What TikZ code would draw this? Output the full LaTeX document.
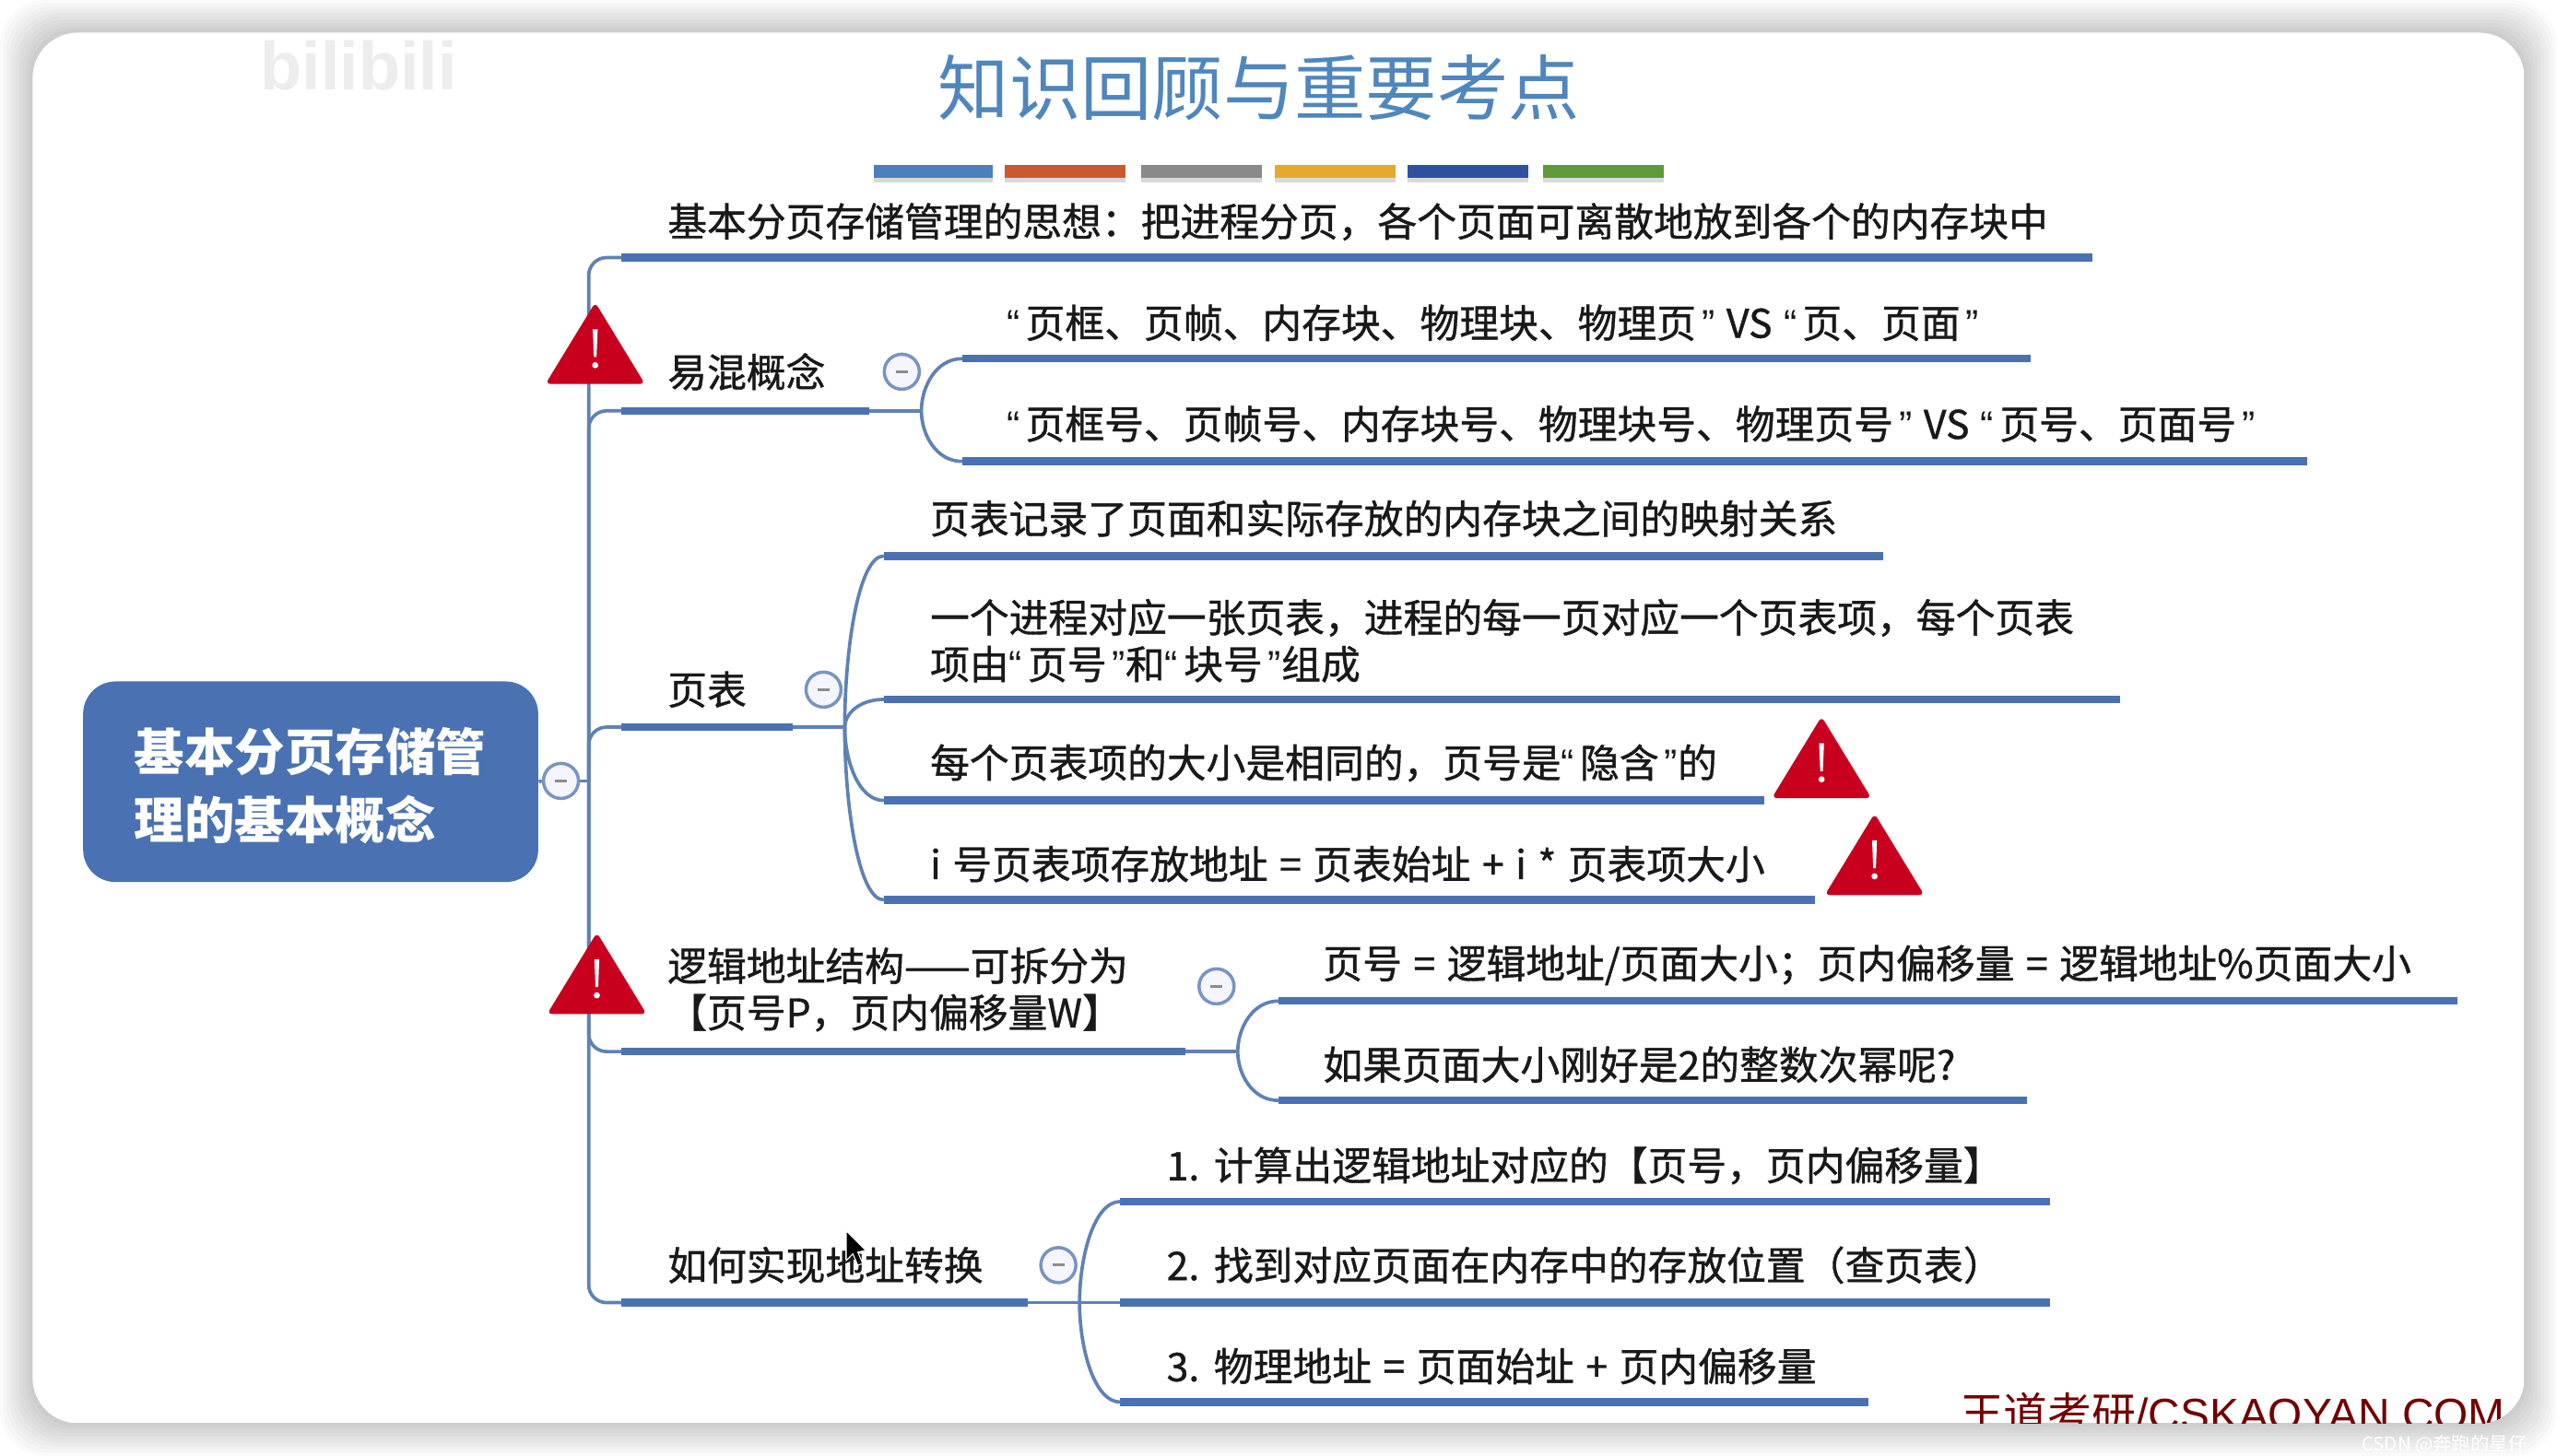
\documentclass[tikz,border=0pt]{standalone}
\usepackage{fontspec}
\setmainfont[AutoFakeBold=1.2]{Noto Sans CJK SC}
\newfontfamily\bodyfont[FakeBold=0.9,WordSpace=1.3]{Noto Sans CJK SC}
\newfontfamily\titlefont{Noto Sans CJK SC}
\newfontfamily\latinfont{Liberation Sans}
\newcommand{\LQ}{{\latinfont “}\kern1.75pt}
\newcommand{\RQ}{\kern1.75pt{\latinfont ”}}
\usetikzlibrary{calc}
\definecolor{mapblue}{HTML}{4A72B2}
\definecolor{connblue}{HTML}{5F82B5}
\definecolor{warnred}{HTML}{C8001E}
\definecolor{titleblue}{HTML}{4F86BD}
\tikzset{
  x=0.01769cm,y=-0.01769cm,
  under/.style={draw=mapblue,line width=2.4pt,line cap=butt},
  conn/.style={draw=connblue,line width=1.05pt},
  txt/.style={anchor=west,inner sep=0pt,text=black!90,font=\bodyfont\fontsize{12.17pt}{14.4pt}\selectfont,align=left},
  minusbtn/.style={circle,draw=connblue!85,line width=1pt,fill=blue!4,minimum size=0.38cm,inner sep=0pt,
    path picture={\draw[black!45,line width=0.9pt] ($(path picture bounding box.center)+(-1.8pt,0)$)--($(path picture bounding box.center)+(1.8pt,0)$);}},
  colorbar/.style={minimum height=0.14cm,inner sep=0pt,draw=none}
}
\newcommand{\tline}[4]{\coordinate (#1s) at (#2,#4);\coordinate (#1e) at (#3,#4);\draw[under] (#1s)--(#1e);}
\newcommand{\warntri}[2]{%
  \fill[warnred,rounded corners=1.6pt] (#1,#2-25.5)--(#1+30.5,#2+24.5)--(#1-30.5,#2+24.5)--cycle;
  \fill[white] (#1-1.5,#2-9)--(#1+1.5,#2-9)--(#1+0.8,#2+8)--(#1-0.8,#2+8)--cycle;
  \fill[white] (#1,#2+13) circle (1.9);
}
\begin{document}
\begin{tikzpicture}
\useasboundingbox (0,0) rectangle (1568,893);
\fill[white] (0,0) rectangle (1568,893);
% card shadow
\foreach \k in {1,...,10}{
  \fill[black,opacity=0.02,rounded corners=14pt] ({20-2*\k},{20-2*\k}) rectangle ({1548+2*\k},{873+2*\k});
}
\begin{scope}
\path[clip,rounded corners=14pt] (20,20) rectangle (1548,873);
\fill[white] (20,20) rectangle (1548,873);
\node[anchor=center,inner sep=0pt,text=black!7,font=\latinfont\bfseries\fontsize{21pt}{22pt}\selectfont] (bili) at (220,40) {bilibili};
\node[anchor=base,inner sep=0pt,text depth=0pt,text=red!45!black,font=\latinfont\fontsize{13.6pt}{14pt}\selectfont] (wm) at (1369,877) {\titlefont 王道考研\latinfont /CSKAOYAN.COM};
\end{scope}
\node[anchor=center,inner sep=0pt,text=white,font=\titlefont\fontsize{5.8pt}{6pt}\selectfont] (csdn) at (1499,886) {CSDN @奔跑的星仔};
% title
\node[anchor=center,inner sep=0pt,font=\titlefont\fontsize{22pt}{24pt}\selectfont,text=titleblue] (title) at (772,54) {知识回顾与重要考点};
% colour bars
\foreach \n/\a/\b/\c in {b1/536/609/4A80BD,b2/616/690/C85B2E,b3/700/774/8A8A8A,b4/782/856/E5A92F,b5/863/937/2F4F9F,b6/946/1020/5F9A38}{
  \definecolor{barcol}{HTML}{\c}
  \fill[black,opacity=0.15] (\a,103) rectangle (\b,112);
  \node[colorbar,fill=barcol,minimum width={(\b-\a)*0.01769cm}] (\n) at ({(\a+\b)/2},105) {};
}
% root
\node[fill=mapblue,rounded corners=10pt,minimum width=4.935cm,minimum height=2.176cm,inner sep=0pt] (root) at (190.5,479.5) {};
\node[anchor=west,inner sep=0pt,text=white,align=left,font=\titlefont\bfseries\fontsize{15.5pt}{21.2pt}\selectfont] (roottext) at (82,482) {基本分页存储管\\理的基本概念};
% topic lines
\tline{a}{381}{1283}{158}
\tline{m}{381}{533}{252}
\tline{p}{381}{486}{446}
\tline{l}{381}{727}{645}
\tline{h}{381}{630}{799}
\tline{ma}{590}{1245}{220}
\tline{mb}{590}{1415}{283}
\tline{pa}{542}{1155}{341}
\tline{pb}{542}{1300}{429}
\tline{pc}{542}{1082}{491}
\tline{pd}{542}{1113}{552}
\tline{la}{784}{1507}{614}
\tline{lb}{784}{1243}{675}
\tline{ha}{687}{1257}{737}
\tline{hb}{687}{1257}{799}
\tline{hc}{687}{1146}{860}
% buttons
\node[minusbtn] (b0) at (344,479) {};
\node[minusbtn] (bm) at (553,228) {};
\node[minusbtn] (bp) at (505,423) {};
\node[minusbtn] (bl) at (746,605) {};
\node[minusbtn] (bh) at (649,776) {};
% connectors
\coordinate (sp) at (361,479);
\coordinate (jm) at (565,252);
\coordinate (jp) at (518,446);
\coordinate (jl) at (759,645);
\coordinate (jh) at (662,799);
\draw[conn] (root.east)--(b0.west);
\draw[conn] (b0.east)--(sp);
\foreach \t in {a,m,p,l,h}{\draw[conn,rounded corners=5.5pt] (sp) |- (\t s);}
\draw[conn] (me)--(jm);\draw[conn] (pe)--(jp);\draw[conn] (le)--(jl);\draw[conn] (he)--(jh);
\foreach \j/\t in {jm/ma,jm/mb,jp/pa,jp/pb,jp/pc,jp/pd,jl/la,jl/lb,jh/ha,jh/hc}{
  \draw[conn] (\j) .. controls ($(\j)!0.45!(\j|-\t s)$) and ($(\j|-\t s)!0.35!(\t s)$) .. (\t s);
}
\draw[conn] (jh)--(hbs);
% texts
\node[txt] (ta) at (409,136) {基本分页存储管理的思想：把进程分页，各个页面可离散地放到各个的内存块中};
\node[txt] (tm) at (409,228) {易混概念};
\node[txt] (tma) at (617,198) {\LQ 页框、页帧、内存块、物理块、物理页\RQ\ VS \LQ 页、页面\RQ};
\node[txt] (tmb) at (617,260) {\LQ 页框号、页帧号、内存块号、物理块号、物理页号\RQ\ VS \LQ 页号、页面号\RQ};
\node[txt] (tp) at (409,423) {页表};
\node[txt] (tpa) at (570,318) {页表记录了页面和实际存放的内存块之间的映射关系};
\node[txt] (tpb) at (570,393) {一个进程对应一张页表，进程的每一页对应一个页表项，每个页表\\项由\LQ 页号\RQ 和\LQ 块号\RQ 组成};
\node[txt] (tpc) at (570,468) {每个页表项的大小是相同的，页号是\LQ 隐含\RQ 的};
\node[txt] (tpd) at (570,530) {i 号页表项存放地址 = 页表始址 + i * 页表项大小};
\node[txt] (tl) at (409,607) {逻辑地址结构——可拆分为\\【页号P，页内偏移量W】};
\node[txt] (tla) at (811,592) {页号 = 逻辑地址/页面大小；页内偏移量 = 逻辑地址\%页面大小};
\node[txt] (tlb) at (811,653) {如果页面大小刚好是2的整数次幂呢?};
\node[txt] (th) at (409,776) {如何实现地址转换};
\node[txt] (tha) at (715,715) {1. 计算出逻辑地址对应的【页号，页内偏移量】};
\node[txt] (thb) at (715,776) {2. 找到对应页面在内存中的存放位置（查页表）};
\node[txt] (thc) at (715,838) {3. 物理地址 = 页面始址 + 页内偏移量};
% warnings
\warntri{365}{211}
\warntri{366}{597.5}
\warntri{1117}{465}
\warntri{1149.5}{524.5}
% cursor
\fill[black,draw=white,line width=0.3pt] (519,755)--(519,773)--(523,769)--(526,776)--(529,775)--(526,768)--(531,767)--cycle;
\end{tikzpicture}
\end{document}
